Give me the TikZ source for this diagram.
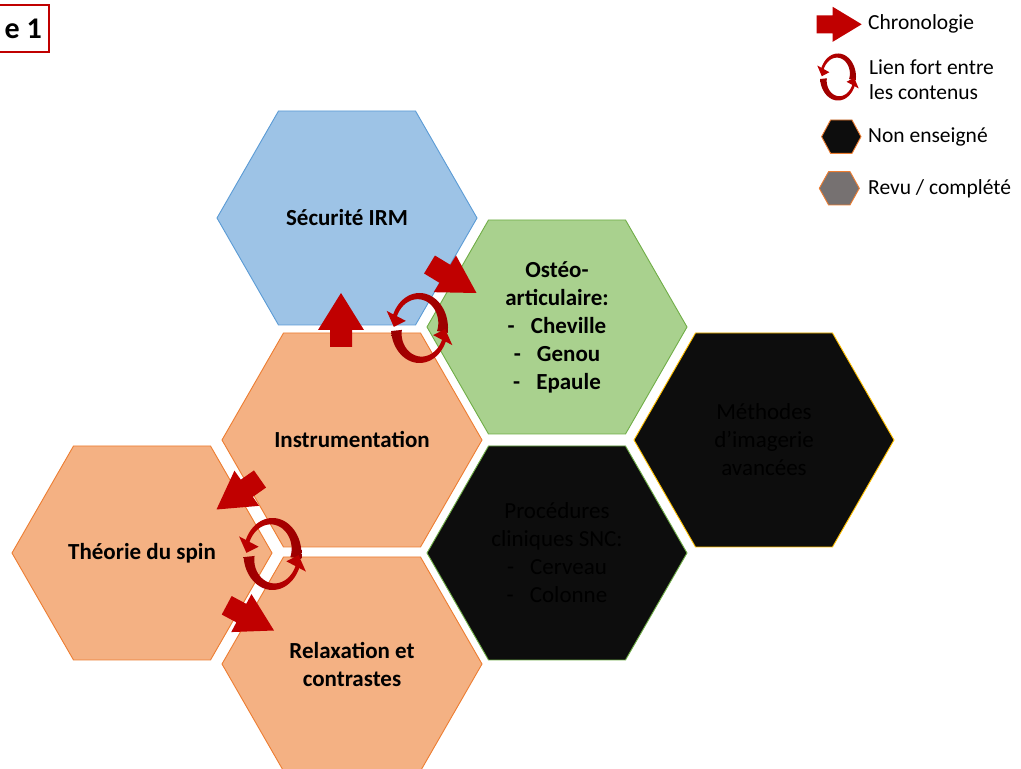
\documentclass[tikz,border=0pt]{standalone}
\usepackage{fontspec}
\setmainfont{Carlito}
\usetikzlibrary{calc}

\definecolor{chrono}{HTML}{C00000}
\definecolor{chronodark}{HTML}{9A0000}
\definecolor{bluefill}{HTML}{9DC3E6}
\definecolor{blueline}{HTML}{5B9BD5}
\definecolor{orangefill}{HTML}{F4B183}
\definecolor{orangeline}{HTML}{ED7D31}
\definecolor{greenfill}{HTML}{A9D18E}
\definecolor{greenline}{HTML}{70AD47}
\definecolor{darkfill}{HTML}{0D0D0D}
\definecolor{goldline}{HTML}{FFC000}
\definecolor{grayfill}{HTML}{767171}

\tikzset{
  hexlabel/.style={align=center, inner sep=0pt, font=\fontsize{23}{28}\selectfont\bfseries},
  hexlabelplain/.style={align=center, inner sep=0pt, text=black, font=\fontsize{23}{28}\selectfont},
  legendtext/.style={anchor=west, inner sep=0pt, align=left, font=\fontsize{21.5}{25}\selectfont},
}

% flat-topped hexagon: centre, half width, half height, half top edge, fill, outline
\newcommand\hexshape[6]{%
  \filldraw[fill=#5, draw=#6, line width=0.9pt, line join=miter]
    ($(#1)+(-#2,0)$) -- ($(#1)+(-#4,#3)$) -- ($(#1)+(#4,#3)$) --
    ($(#1)+(#2,0)$) -- ($(#1)+(#4,-#3)$) -- ($(#1)+(-#4,-#3)$) -- cycle;}
\newcommand\cell[3]{\hexshape{#1}{130}{107}{68.5}{#2}{#3}}

% block arrow: tail, tip, half shaft width, head length, half head width
\newcommand\blockarrow[5]{%
  \coordinate (ba-base) at ($(#2)!#4!(#1)$);
  \fill[chrono] ($(#1)!#3!90:(#2)$) -- ($(ba-base)!#3!-90:(#1)$) --
    ($(ba-base)!#5!-90:(#1)$) -- (#2) -- ($(ba-base)!#5!90:(#1)$) --
    ($(ba-base)!#3!90:(#1)$) -- ($(#1)!#3!-90:(#2)$) -- cycle;}

% one half of the looping arrow (unit circle): start angle, head base angle, tip angle, shading
\newcommand\ringarc[4]{%
  \shade[#4] plot[domain=#1:#2, samples=40] ({cos(\x)},{sin(\x)})
    -- ({1.25*cos(#2)},{1.25*sin(#2)}) -- ({0.9*cos(#3)},{0.9*sin(#3)})
    -- ({0.52*cos(#2)},{0.52*sin(#2)})
    -- plot[domain=#2:#1, samples=40]
       ({(0.86-0.24*(1-(\x-(#1))/((#2)-(#1)))^2)*cos(\x)},
        {(0.86-0.24*(1-(\x-(#1))/((#2)-(#1)))^2)*sin(\x)})
    -- cycle;}
% looping arrow: centre, x radius, y radius
\newcommand\linkring[3]{%
  \begin{scope}[shift={(#1)}, x=#2, y=#3]
    \ringarc{-8}{157}{178}{left color=chrono, middle color=chrono, right color=chronodark}
    \ringarc{185}{337}{358}{left color=chronodark, middle color=chrono, right color=chrono}
  \end{scope}}

\begin{document}
\begin{tikzpicture}[x=1pt,y=1pt]
\useasboundingbox (0,0) rectangle (1021,769);
\clip (0,0) rectangle (1021,769);
\fill[white] (0,0) rectangle (1021,769);

% cell centres
\coordinate (c-securite) at (347,551);
\coordinate (c-instr) at (352,329);
\coordinate (c-spin) at (142,216);
\coordinate (c-relax) at (352,105);
\coordinate (c-osteo) at (557,442);
\coordinate (c-snc) at (557,216);
\coordinate (c-methodes) at (764,329);

% caption box, cut at the left edge
\draw[chrono, line width=2pt] (-60,717) rectangle (49,764);
\node[anchor=base east, inner sep=0pt, font=\fontsize{30}{33}\selectfont\bfseries] (caption) at (42,730) {e 1};

% cells
\cell{c-securite}{bluefill}{blueline}
\cell{c-instr}{orangefill}{orangeline}
\cell{c-spin}{orangefill}{orangeline}
\cell{c-relax}{orangefill}{orangeline}
\cell{c-osteo}{greenfill}{greenline}
\cell{c-snc}{darkfill}{greenline}
\cell{c-methodes}{darkfill}{goldline}

\node[hexlabel] (securite) at (c-securite) {Sécurité IRM};
\node[hexlabel] (instr) at (c-instr) {Instrumentation};
\node[hexlabel] (spin) at (c-spin) {Théorie du spin};
\node[hexlabel] (relax) at (c-relax) {Relaxation et\\contrastes};
\node[hexlabel] (osteo) at (c-osteo) {Ostéo-\\articulaire:\\-\hspace{0.7em}Cheville\\-\hspace{0.7em}Genou\\-\hspace{0.7em}Epaule};
\node[hexlabelplain] (snc) at (c-snc) {Procédures\\cliniques SNC:\\-\hspace{0.7em}Cerveau\\-\hspace{0.7em}Colonne};
\node[hexlabelplain] (methodes) at (c-methodes) {Méthodes\\d’imagerie\\avancées};

% chronology arrows
\coordinate (a1t) at (341,422);   \coordinate (a1h) at (341,476);
\coordinate (a2t) at (429.5,504.5); \coordinate (a2h) at (476.5,476);
\coordinate (a3t) at (260,290);   \coordinate (a3h) at (216.5,259.5);
\coordinate (a4t) at (226.7,163.7); \coordinate (a4h) at (274,138.5);
\blockarrow{a1t}{a1h}{11pt}{37pt}{23pt}
\blockarrow{a2t}{a2h}{10.5pt}{37pt}{21.5pt}
\blockarrow{a3t}{a3h}{10.5pt}{37pt}{21.5pt}
\blockarrow{a4t}{a4h}{10.5pt}{37pt}{21.5pt}

% strong links
\coordinate (ring1) at (419.5,441);
\coordinate (ring2) at (272.5,215);
\linkring{ring1}{28.5pt}{35pt}
\linkring{ring2}{29pt}{36pt}

% legend
\coordinate (lg-at) at (816.7,744.7); \coordinate (lg-ah) at (861.7,744.7);
\blockarrow{lg-at}{lg-ah}{9pt}{29pt}{17.5pt}
\node[legendtext] (lg-chrono) at (868,745) {Chronologie};

\coordinate (lg-ring) at (838,692);
\linkring{lg-ring}{18pt}{23.5pt}
\node[legendtext] (lg-lien) at (869,689.5) {Lien fort entre\\les contenus};

\coordinate (lg-dark) at (841.3,632.3);
\hexshape{lg-dark}{19.7}{16.7}{10.7}{darkfill}{orangeline}
\node[legendtext] (lg-non) at (868,632) {Non enseigné};

\coordinate (lg-gray) at (839.3,580.7);
\hexshape{lg-gray}{20}{16.7}{10.7}{grayfill}{orangeline}
\node[legendtext] (lg-revu) at (868,580) {Revu / complété};
\end{tikzpicture}
\end{document}
